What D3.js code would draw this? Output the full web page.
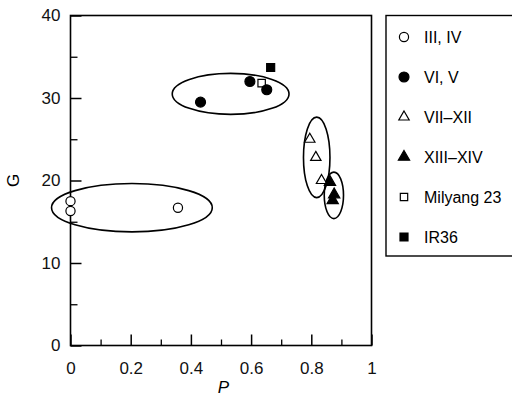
<!DOCTYPE html>
<html>
<head>
<meta charset="utf-8">
<script src="https://cdn.jsdelivr.net/npm/d3@7"></script>
<style>
  html, body { margin: 0; padding: 0; background: #fff; }
  svg { display: block; font-family: "Liberation Sans", Arial, Helvetica, sans-serif; }
</style>
</head>
<body>
<svg id="chart" width="512" height="398"></svg>
<script>
// ---- Data ----
const seriesNames = ["III, IV", "VI, V", "VII\u2013XII", "XIII\u2013XIV", "Milyang 23", "IR36"];
const seriesSymbols = ["circle", "circle", "triangle", "triangle", "square", "square"];
const seriesFilled = [false, true, false, true, false, true];

const groupIIIIV_P = [0.0, 0.0, 0.357];
const groupIIIIV_G = [17.5, 16.3, 16.7];
const groupVIV_P = [0.432, 0.596, 0.652];
const groupVIV_G = [29.5, 32.0, 31.0];
const groupVIIXII_P = [0.795, 0.815, 0.834];
const groupVIIXII_G = [25.0, 22.8, 20.0];
const groupXIIIXIV_P = [0.862, 0.876, 0.871];
const groupXIIIXIV_G = [19.8, 18.3, 17.6];
const milyang_P = [0.635];
const milyang_G = [31.8];
const ir36_P = [0.665];
const ir36_G = [33.7];

// Ellipses around groups: centre (P, G) and radii (in P and G units)
const ellipseCP = [0.204, 0.532, 0.818, 0.875];
const ellipseCG = [16.7, 30.5, 22.8, 18.2];
const ellipseRP = [0.267, 0.194, 0.044, 0.032];
const ellipseRG = [2.93, 2.48, 4.88, 2.82];

const xTickLabels = ["0", "0.2", "0.4", "0.6", "0.8", "1"];
const xMajorTicks = [0, 0.2, 0.4, 0.6, 0.8, 1.0];
const xMinorTicks = [0.1, 0.3, 0.5, 0.7, 0.9];
const yTickLabels = ["0", "10", "20", "30", "40"];
const yMajorTicks = [0, 10, 20, 30, 40];
const yMinorTicks = [5, 15, 25, 35];

// ---- Layout ----
const svg = d3.select("#chart");
const mL = 70.5, mR = 371.5, mT = 15.5, mB = 345.5;
const x = d3.scaleLinear().domain([0, 1]).range([mL, mR]);
const y = d3.scaleLinear().domain([0, 40]).range([mB, mT]);

const allP = [groupIIIIV_P, groupVIV_P, groupVIIXII_P, groupXIIIXIV_P, milyang_P, ir36_P];
const allG = [groupIIIIV_G, groupVIV_G, groupVIIXII_G, groupXIIIXIV_G, milyang_G, ir36_G];

// Frame
svg.append("rect")
  .attr("x", mL).attr("y", mT)
  .attr("width", mR - mL).attr("height", mB - mT)
  .attr("fill", "none").attr("stroke", "#000").attr("stroke-width", 1.6);

// Axes with inward ticks
const xAxisMajor = d3.axisTop(x).tickValues(xMajorTicks).tickSize(11)
  .tickFormat((d, i) => xTickLabels[i]);
const gx = svg.append("g").attr("transform", `translate(0,${mB})`).call(xAxisMajor);
gx.select(".domain").remove();
gx.selectAll("text").attr("y", 28).style("font-size", "17px").attr("fill", "#111");
gx.selectAll("line").attr("stroke", "#000").attr("stroke-width", 1.5);
const gxm = svg.append("g").attr("transform", `translate(0,${mB})`)
  .call(d3.axisTop(x).tickValues(xMinorTicks).tickSize(6).tickFormat(""));
gxm.select(".domain").remove();
gxm.selectAll("line").attr("stroke", "#000").attr("stroke-width", 1.3);

const yAxisMajor = d3.axisRight(y).tickValues(yMajorTicks).tickSize(11)
  .tickFormat((d, i) => yTickLabels[i]);
const gy = svg.append("g").attr("transform", `translate(${mL},0)`).call(yAxisMajor);
gy.select(".domain").remove();
gy.selectAll("text").attr("x", -10).attr("text-anchor", "end")
  .style("font-size", "17px").attr("fill", "#111");
gy.selectAll("line").attr("stroke", "#000").attr("stroke-width", 1.5);
const gym = svg.append("g").attr("transform", `translate(${mL},0)`)
  .call(d3.axisRight(y).tickValues(yMinorTicks).tickSize(7).tickFormat(""));
gym.select(".domain").remove();
gym.selectAll("line").attr("stroke", "#000").attr("stroke-width", 1.3);
svg.selectAll("g").attr("font-family", null).attr("font-size", null);

// Axis titles
svg.append("text").attr("x", x(0.508)).attr("y", 393)
  .attr("text-anchor", "middle").style("font-size", "17px").style("font-style", "italic")
  .text("P");
svg.append("text")
  .attr("transform", `translate(19,${y(20)}) rotate(-90)`)
  .attr("text-anchor", "middle").style("font-size", "17px")
  .text("G");

// Ellipses
svg.append("g").selectAll("ellipse")
  .data(ellipseCP.map((p, i) => ({p, g: ellipseCG[i], rp: ellipseRP[i], rg: ellipseRG[i]})))
  .join("ellipse")
  .attr("cx", d => x(d.p)).attr("cy", d => y(d.g))
  .attr("rx", d => x(d.p + d.rp) - x(d.p))
  .attr("ry", d => y(d.g - d.rg) - y(d.g))
  .attr("fill", "none").attr("stroke", "#000").attr("stroke-width", 1.6);

// Symbols
const symType = { circle: d3.symbolCircle, triangle: d3.symbolTriangle, square: d3.symbolSquare };
const symSize = { circle: 78, triangle: 55, square: 64 };
function sym(name, filled) {
  const s = filled ? symSize[name] : symSize[name] * 0.85;
  return d3.symbol().type(symType[name]).size(s)();
}

// draw order: open square behind filled circles
const drawOrder = [0, 4, 1, 2, 3, 5];
const pts = svg.append("g");
drawOrder.forEach(si => {
  const P = allP[si], G = allG[si];
  pts.selectAll(null)
    .data(P.map((p, i) => ({p, g: G[i]})))
    .join("path")
    .attr("transform", d => `translate(${x(d.p)},${y(d.g)})`)
    .attr("d", sym(seriesSymbols[si], seriesFilled[si]))
    .attr("fill", seriesFilled[si] ? "#000" : "#fff")
    .attr("stroke", "#000").attr("stroke-width", 1.2);
});

// Legend
const lg = svg.append("g");
lg.append("rect").attr("x", 386).attr("y", 15.5).attr("width", 140).attr("height", 240.5)
  .attr("fill", "#fff").attr("stroke", "#000").attr("stroke-width", 1.4);
const items = lg.selectAll("g.item").data(seriesNames).join("g")
  .attr("class", "item")
  .attr("transform", (d, i) => `translate(404,${37 + i * 40})`);
items.append("path")
  .attr("d", (d, i) => sym(seriesSymbols[i], seriesFilled[i]))
  .attr("fill", (d, i) => seriesFilled[i] ? "#000" : "#fff")
  .attr("stroke", "#000").attr("stroke-width", 1.2);
items.append("text").attr("x", 20).attr("y", 6)
  .style("font-size", "16px")
  .text(d => d);
</script>
</body>
</html>
